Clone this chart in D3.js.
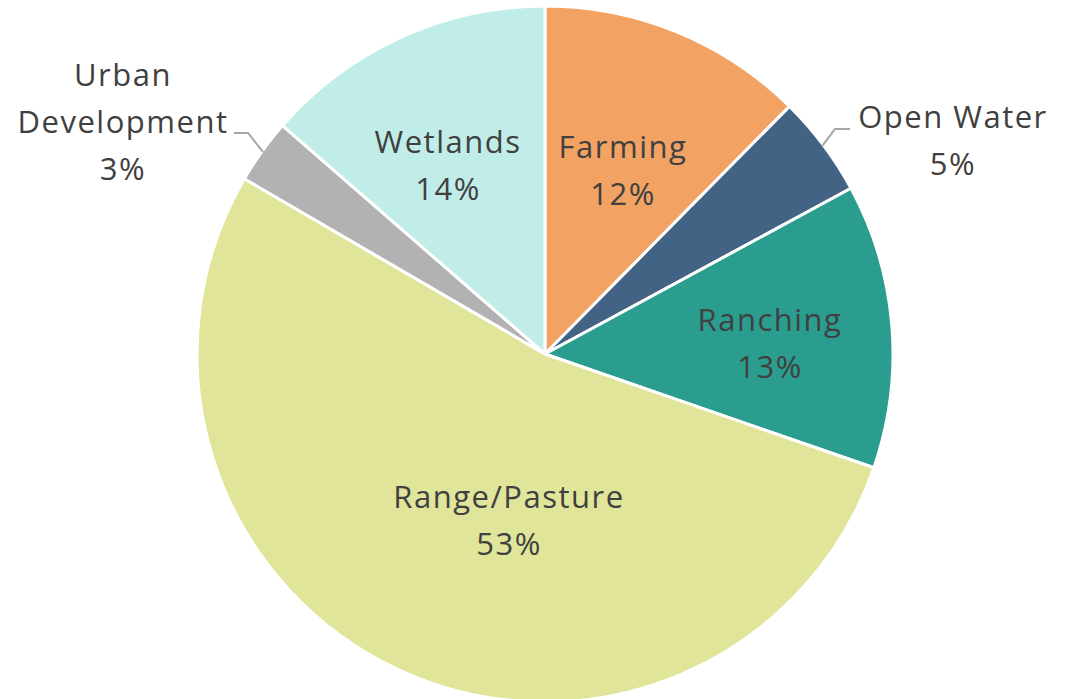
<!DOCTYPE html>
<html>
<head>
<meta charset="utf-8">
<script src="https://cdn.jsdelivr.net/npm/d3@7/dist/d3.min.js"></script>
<style>
  html, body { margin: 0; padding: 0; background: #ffffff; }
  svg { display: block; }
</style>
</head>
<body>
<svg id="chart" width="1073" height="699"></svg>
<script>
// Data (clockwise from 12 o'clock)
const categories = ["Farming", "Open Water", "Ranching", "Range/Pasture", "Urban Development", "Wetlands"];
const values = [12.4, 4.7, 13.2, 53.1, 3.0, 13.6];
const percentLabels = ["12%", "5%", "13%", "53%", "3%", "14%"];
const colors = ["#F2A262", "#436385", "#2A9D8F", "#E0E59A", "#B2B2B2", "#C1EDE8"];

// Layout
const W = 1073, H = 699;
const cx = 545, cy = 354, R = 348;
const labelLayout = [
  { lines: ["Farming"], x: 623, y: 158, outside: false },
  { lines: ["Open Water"], x: 953, y: 128, outside: true, anchor: [850, 129], elbow: [835, 129] },
  { lines: ["Ranching"], x: 770, y: 331, outside: false },
  { lines: ["Range/Pasture"], x: 509, y: 508, outside: false },
  { lines: ["Urban", "Development"], x: 123, y: 86, outside: true, anchor: [234, 133], elbow: [248, 133] },
  { lines: ["Wetlands"], x: 448, y: 153, outside: false }
];
const lineH = 47;

const svg = d3.select("#chart");
const g = svg.append("g").attr("transform", `translate(${cx},${cy})`);

const data = categories.map((c, i) => ({ name: c, value: values[i], pct: percentLabels[i], color: colors[i] }));
const pie = d3.pie().value(d => d.value).sort(null).startAngle(0).endAngle(2 * Math.PI);
const arcs = pie(data);
const arc = d3.arc().innerRadius(0).outerRadius(R);

g.selectAll("path.slice")
  .data(arcs)
  .enter().append("path")
  .attr("class", "slice")
  .attr("d", arc)
  .attr("fill", d => d.data.color)
  .attr("stroke", "#ffffff")
  .attr("stroke-width", 3)
  .attr("stroke-linejoin", "round");

arcs.forEach((a, i) => {
  const L = labelLayout[i];
  if (!L.outside) return;
  const mid = (a.startAngle + a.endAngle) / 2;
  const ex = cx + (R - 1) * Math.sin(mid), ey = cy - (R - 1) * Math.cos(mid);
  svg.append("polyline")
    .attr("points", [[ex, ey], L.elbow, L.anchor].map(p => p.join(",")).join(" "))
    .attr("fill", "none")
    .attr("stroke", "#A6A6A6")
    .attr("stroke-width", 2);
});

arcs.forEach((a, i) => {
  const L = labelLayout[i];
  const t = svg.append("text")
    .attr("text-anchor", "middle")
    .attr("font-family", "'Open Sans', sans-serif")
    .attr("font-size", 31)
    .attr("letter-spacing", 1.5)
    .attr("fill", "#404040");
  const lines = L.lines.concat([a.data.pct]);
  lines.forEach((ln, k) => {
    t.append("tspan").attr("x", L.x).attr("y", L.y + k * lineH).text(ln);
  });
});
</script>
</body>
</html>
